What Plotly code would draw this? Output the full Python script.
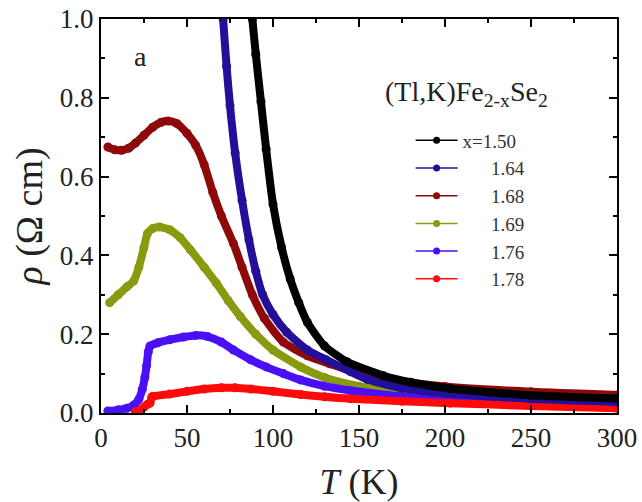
import plotly.graph_objects as go

# ---------------- data ----------------
labels = ["x=1.50", "1.64", "1.68", "1.69", "1.76", "1.78"]
colors = ["#000000", "#22109a", "#8e0a0a", "#8a9a10", "#4a10f5", "#ff0a0a"]

T_150 = [87.5, 88, 90, 93, 96, 100, 105, 110, 115, 120, 130, 143, 164, 180, 203, 250, 300]
rho_150 = [1.03, 1.0, 0.91, 0.79, 0.67, 0.53, 0.42, 0.34, 0.28, 0.23, 0.17, 0.13, 0.095, 0.078, 0.062, 0.045, 0.037]

T_164 = [70.5, 71, 73, 75, 78, 82, 86, 90, 94, 100, 108, 120, 131, 145, 155, 175, 200, 250, 300]
rho_164 = [1.03, 1.0, 0.88, 0.78, 0.66, 0.54, 0.44, 0.36, 0.30, 0.25, 0.205, 0.16, 0.135, 0.105, 0.085, 0.063, 0.05, 0.036, 0.028]

T_168 = [4, 8, 12, 16, 20, 25, 30, 35, 39, 44, 50, 55, 60, 65, 70, 77, 82, 88, 95, 106, 120, 133, 150, 175, 200, 250, 300]
rho_168 = [0.675, 0.668, 0.667, 0.672, 0.685, 0.705, 0.725, 0.738, 0.741, 0.735, 0.71, 0.68, 0.63, 0.56, 0.5, 0.43, 0.37,
           0.3, 0.24, 0.18, 0.145, 0.125, 0.1, 0.08, 0.067, 0.054, 0.046]

T_169 = [5, 10, 15, 19, 22, 25, 27, 30, 34, 40, 46, 52, 60, 67, 74, 81, 90, 100, 116, 130, 150, 175, 200, 250, 300]
rho_169 = [0.28, 0.30, 0.32, 0.335, 0.37, 0.42, 0.455, 0.468, 0.472, 0.465, 0.445, 0.414, 0.37, 0.33, 0.285, 0.245, 0.2,
           0.16, 0.117, 0.09, 0.068, 0.05, 0.042, 0.033, 0.028]

T_176 = [4, 10, 15, 19, 22, 24, 25.5, 26.5, 27.5, 28.5, 33, 40, 48, 55, 62, 70, 77, 87, 96, 106, 116, 130, 145, 175, 200, 250, 300]
rho_176 = [0.005, 0.008, 0.012, 0.02, 0.035, 0.06, 0.09, 0.12, 0.155, 0.17, 0.178, 0.186, 0.193, 0.197, 0.194, 0.18, 0.16,
           0.135, 0.117, 0.1, 0.084, 0.068, 0.057, 0.042, 0.035, 0.025, 0.02]

T_178 = [20, 23, 25, 27, 28.5, 29.5, 30, 40, 50, 60, 70, 78, 87, 100, 116, 130, 145, 175, 203, 250, 300]
rho_178 = [0.003, 0.008, 0.015, 0.022, 0.025, 0.04, 0.042, 0.048, 0.055, 0.061, 0.064, 0.064, 0.061, 0.055, 0.047, 0.041,
           0.036, 0.03, 0.025, 0.018, 0.012]

series_T = [T_150, T_164, T_168, T_169, T_176, T_178]
series_rho = [rho_150, rho_164, rho_168, rho_169, rho_176, rho_178]

x_ticks = [0, 50, 100, 150, 200, 250, 300]
y_ticks = [0.0, 0.2, 0.4, 0.6, 0.8, 1.0]

FONT = "Liberation Serif"

fig = go.Figure()

# curves (drawn so black ends on top like the reference)
order = [2, 3, 4, 5, 1, 0]
for i in order:
    fig.add_trace(go.Scatter(
        x=series_T[i], y=series_rho[i], mode="lines+markers",
        line=dict(color=colors[i], width=8, shape="spline", smoothing=0.6),
        marker=dict(color=colors[i], size=9),
        showlegend=False, hoverinfo="skip"))

# legend entries (thin line + dot), names right-aligned with non-breaking spaces
for i, lab in enumerate(labels):
    name = lab if i == 0 else "\u00a0\u00a0\u00a0\u00a0\u00a0\u00a0" + lab
    fig.add_trace(go.Scatter(
        x=[None], y=[None], mode="lines+markers", name=name,
        line=dict(color=colors[i], width=1.5),
        marker=dict(color=colors[i], size=7)))

axis_common = dict(
    showline=True, linecolor="black", linewidth=2, mirror="allticks",
    ticks="inside", ticklen=8, tickwidth=2, tickcolor="black",
    showgrid=False, zeroline=False, automargin=False,
    tickfont=dict(family=FONT, size=27, color="#222"),
)

fig.update_xaxes(
    range=[0, 300], tickvals=x_ticks, ticktext=[str(v) for v in x_ticks],
    minor=dict(dtick=25, ticks="inside", ticklen=4, tickwidth=2, tickcolor="black", showgrid=False),
    title=dict(text="<i>T</i> (K)", font=dict(family=FONT, size=36, color="#222"), standoff=18),
    **axis_common)
fig.update_yaxes(
    range=[0, 1.0], tickvals=y_ticks, ticktext=[f"{v:.1f}" for v in y_ticks],
    minor=dict(dtick=0.1, ticks="inside", ticklen=4, tickwidth=2, tickcolor="black", showgrid=False),
    title=dict(text="<i>ρ</i> (Ω cm)", font=dict(family=FONT, size=38, color="#222"), standoff=6),
    **axis_common)

fig.update_layout(
    width=642, height=502,
    margin=dict(l=101, r=25, t=19, b=89),
    paper_bgcolor="white", plot_bgcolor="white",
    font=dict(family=FONT, color="#222"),
    legend=dict(x=0.60, y=0.74, xanchor="left", yanchor="top",
                bgcolor="rgba(0,0,0,0)", font=dict(family=FONT, size=19, color="#333"),
                itemwidth=42, tracegroupgap=0),
    annotations=[
        dict(text="a", x=0.076, y=0.904, xref="paper", yref="paper", showarrow=False,
             xanchor="center", yanchor="middle",
             font=dict(family=FONT, size=28, color="#222")),
        dict(text="(Tl,K)Fe<sub>2-x</sub>Se<sub>2</sub>", x=0.5465, y=0.812, xref="paper", yref="paper",
             xanchor="left", yanchor="middle", showarrow=False,
             font=dict(family=FONT, size=28, color="#222")),
    ],
)

fig.write_html("out.html")
